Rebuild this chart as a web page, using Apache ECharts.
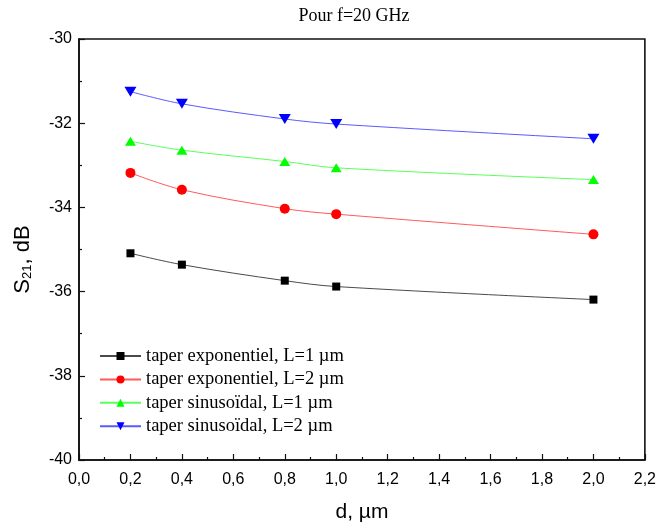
<!DOCTYPE html>
<html>
<head>
<meta charset="utf-8">
<script src="https://cdn.jsdelivr.net/npm/echarts@6/dist/echarts.min.js"></script>
<style>
  html, body { margin: 0; padding: 0; background: #fff; }
  #chart { width: 659px; height: 528px; }
</style>
</head>
<body>
<div id="chart"></div>
<script>
// Transmission S21 (dB) versus gap d (µm) at 20 GHz
const dValues = [0.2, 0.4, 0.8, 1.0, 2.0];
const expL1 = [-35.09, -35.36, -35.74, -35.88, -36.19];
const expL2 = [-33.18, -33.58, -34.03, -34.16, -34.64];
const sinL1 = [-32.43, -32.64, -32.91, -33.06, -33.34];
const sinL2 = [-31.25, -31.54, -31.90, -32.02, -32.37];

const seriesNames = [
  'taper exponentiel, L=1 µm',
  'taper exponentiel, L=2 µm',
  'taper sinusoïdal, L=1 µm',
  'taper sinusoïdal, L=2 µm'
];

const chart = echarts.init(document.getElementById('chart'), null, { renderer: 'canvas' });

const pairs = arr => dValues.map((d, i) => [d, arr[i]]);
const sansFont = '"Liberation Sans", Arial, sans-serif';
const serifFont = '"Liberation Serif", "Times New Roman", serif';

function makeSeries(name, values, symbol, size, markColor, lineColor, rotate) {
  return {
    name: name,
    type: 'line',
    data: pairs(values),
    smooth: 0.35,
    symbol: symbol,
    symbolSize: size,
    symbolRotate: rotate || 0,
    showSymbol: true,
    itemStyle: { color: markColor, borderWidth: 0 },
    lineStyle: { color: lineColor, width: 1 },
    emphasis: { disabled: true },
    z: 3
  };
}

const axisLineStyle = { color: '#111', width: 1.6 };
const tickStyle = { color: '#111', width: 1.2 };

chart.setOption({
  animation: false,
  backgroundColor: '#fff',
  title: {
    text: 'Pour f=20 GHz',
    left: 354,
    textAlign: 'center',
    top: 7,
    padding: 0,
    textStyle: { fontFamily: serifFont, fontSize: 18, fontWeight: 'normal', color: '#000' }
  },
  grid: {
    left: 79, right: 11, top: 39, bottom: 63,
    show: true, borderColor: '#111', borderWidth: 1.6, backgroundColor: 'transparent'
  },
  legend: {
    orient: 'vertical',
    left: 99,
    top: 346,
    padding: 0,
    itemWidth: 41,
    itemHeight: 10,
    itemGap: 3.4,
    textStyle: { fontFamily: serifFont, fontSize: 18.5, color: '#000', lineHeight: 20 },
    data: seriesNames
  },
  xAxis: {
    type: 'value',
    min: 0, max: 2.2, interval: 0.2,
    name: 'd, µm',
    nameLocation: 'middle',
    nameGap: 42,
    nameTextStyle: { fontFamily: sansFont, fontSize: 21, color: '#000' },
    axisLine: { show: true, lineStyle: axisLineStyle },
    axisTick: { show: true, inside: true, length: 6, lineStyle: tickStyle },
    minorTick: { show: true, splitNumber: 2, length: 3, lineStyle: tickStyle },
    splitLine: { show: false },
    axisLabel: {
      fontFamily: sansFont, fontSize: 16, color: '#000', margin: 12,
      formatter: v => v.toFixed(1).replace('.', ',')
    }
  },
  yAxis: {
    type: 'value',
    min: -40, max: -30, interval: 2,
    name: '{m|S}{sub|21}{m|, dB}',
    nameLocation: 'middle',
    nameGap: 45,
    nameRotate: 90,
    nameTextStyle: {
      padding: [0, 20, 0, 0],
      rich: {
        m: { fontFamily: sansFont, fontSize: 22, color: '#000', lineHeight: 26, verticalAlign: 'bottom' },
        sub: { fontFamily: sansFont, fontSize: 13, color: '#000', lineHeight: 13, verticalAlign: 'bottom' }
      }
    },
    axisLine: { show: true, lineStyle: axisLineStyle },
    axisTick: { show: true, inside: true, length: 6, lineStyle: tickStyle },
    minorTick: { show: true, splitNumber: 2, length: 3, lineStyle: tickStyle },
    splitLine: { show: false },
    axisLabel: { fontFamily: sansFont, fontSize: 16, color: '#000', margin: 7 }
  },
  series: [
    makeSeries(seriesNames[0], expL1, 'rect', 8, '#000000', '#4a4a4a'),
    makeSeries(seriesNames[1], expL2, 'circle', 10, '#ff0000', '#ff5a5a'),
    makeSeries(seriesNames[2], sinL1, 'triangle', [11, 9], '#00ff00', '#5aff5a'),
    makeSeries(seriesNames[3], sinL2, 'triangle', [12, 10], '#0000ff', '#5a5aff', 180)
  ]
});
</script>
</body>
</html>
